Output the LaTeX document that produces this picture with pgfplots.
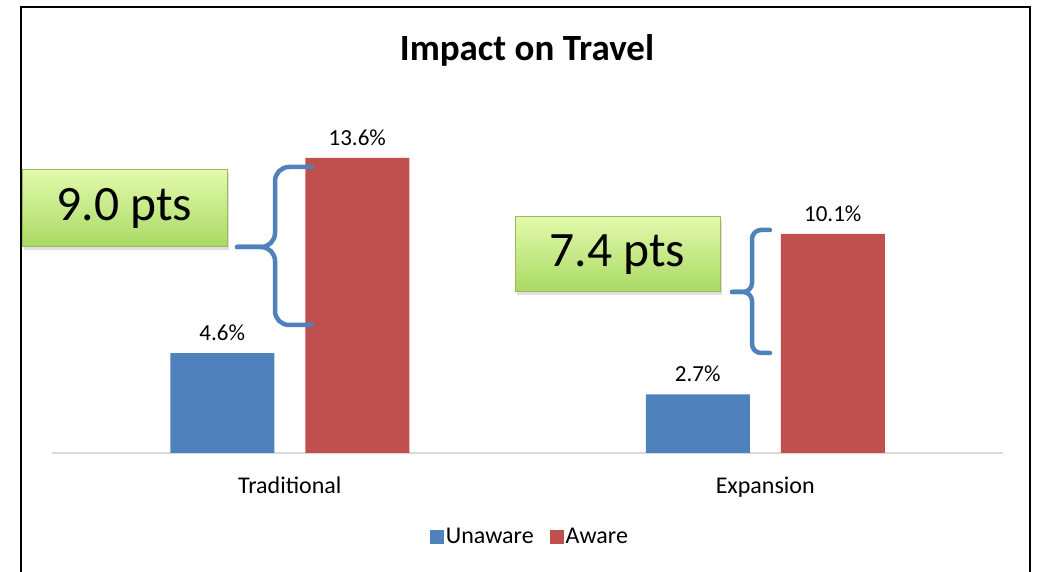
\documentclass[border=0pt]{standalone}
\usepackage{pgfplots}
\pgfplotsset{compat=1.18}
\usepackage{fontspec}
\setmainfont{Carlito}
\usetikzlibrary{shadows}
\definecolor{bblue}{HTML}{4F81BD}
\definecolor{rred}{HTML}{C0504D}
\definecolor{gtop}{HTML}{E2FAAB}
\definecolor{gbot}{HTML}{A9D964}
\definecolor{gedge}{HTML}{9BBB59}
\definecolor{axgray}{HTML}{D9D9D9}

\begin{document}
\begin{tikzpicture}[x=1pt,y=1pt]
\useasboundingbox (0,0) rectangle (1041,572);
% outer frame (bottom edge lies below the picture)
\draw[line width=2pt] (21,-10) -- (21,565) -- (1030,565) -- (1030,-10);

\node[font=\bfseries\fontsize{37}{44}\selectfont, anchor=base] at (527,511) {Impact on Travel};

\begin{axis}[
    at={(52pt,119pt)}, anchor=south west,
    scale only axis, width=951pt, height=325.5pt,
    ybar=31pt, bar width=104pt,
    xmin=-0.5, xmax=1.5, ymin=0, ymax=15,
    enlarge x limits=false, enlarge y limits=false,
    axis x line=bottom, axis y line=none,
    x axis line style={-, draw=axgray, line width=2.5pt},
    xtick={0,1}, xticklabels={Traditional,Expansion},
    major tick length=0pt,
    xticklabel style={font=\fontsize{24}{29}\selectfont, yshift=-20pt},
    /pgf/number format/assume math mode=true,
    nodes near coords={\pgfmathprintnumber[fixed,fixed zerofill,precision=1]{\pgfplotspointmeta}\%},
    nodes near coords style={font=\fontsize{23}{27}\selectfont, text=black, anchor=south, yshift=9pt},
    legend style={at={(rel axis cs:0.5026,-0.258)}, anchor=center, draw=none,
        legend columns=2, font=\fontsize{24}{29}\selectfont,
        /tikz/every even column/.append style={column sep=14pt}},
    legend image code/.code={\fill[#1] (0pt,-7pt) rectangle (14pt,7pt);},
]
\addplot[fill=bblue, draw=none] coordinates {(0,4.6) (1,2.7)};
\addplot[fill=rred, draw=none] coordinates {(0,13.6) (1,10.1)};
\legend{Unaware, Aware}
\end{axis}

% callouts
\node[draw=gedge, line width=1pt, top color=gtop, bottom color=gbot,
      minimum width=205pt, minimum height=77pt, inner sep=0pt,
      drop shadow={shadow xshift=2pt, shadow yshift=-3pt, opacity=0.25},
      font=\fontsize{49.5}{58}\selectfont] at (124.5,363.5) {\raisebox{-3pt}{9.0 pts}};
\node[draw=gedge, line width=1pt, top color=gtop, bottom color=gbot,
      minimum width=205pt, minimum height=75pt, inner sep=0pt,
      drop shadow={shadow xshift=2pt, shadow yshift=-3pt, opacity=0.25},
      font=\fontsize{49.5}{58}\selectfont] at (617.5,317.5) {\raisebox{-3pt}{7.4 pts}};

% braces
\begin{scope}[bblue, line width=4.5pt, line cap=round, rounded corners=14pt]
\draw (312,405) -- (275,405) -- (275,325) -- (237,325);
\draw (237,325) -- (275,325) -- (275,247) -- (312,247);
\end{scope}
\begin{scope}[bblue, line width=4.5pt, line cap=round, rounded corners=9pt]
\draw (770,342) -- (752,342) -- (752,280) -- (732,280);
\draw (732,280) -- (752,280) -- (752,219) -- (770,219);
\end{scope}
\end{tikzpicture}
\end{document}
